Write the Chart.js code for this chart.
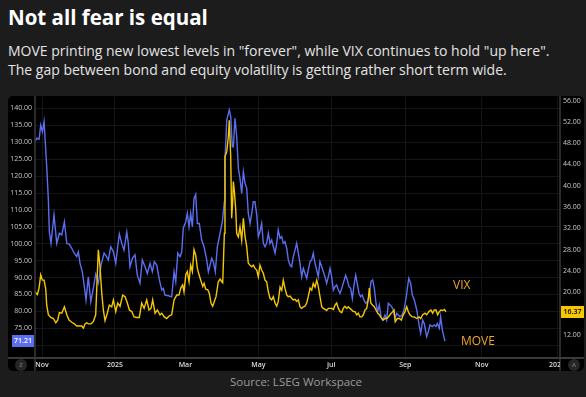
<!DOCTYPE html>
<html>
<head>
<meta charset="utf-8">
<script src="https://cdn.jsdelivr.net/npm/chart.js@4.4.1/dist/chart.umd.min.js"></script>
<style>
  html, body { margin: 0; padding: 0; width: 586px; height: 397px; overflow: hidden; background: #1c1c1c; font-family: 'Open Sans', sans-serif; }
  #title { position: absolute; left: 8px; top: 5px; color: #fff; font-weight: 700; font-size: 20.5px; line-height: 24px; white-space: nowrap; }
  #sub { position: absolute; left: 8px; top: 41px; color: #e4e4e4; font-size: 14px; line-height: 19px; white-space: nowrap; }
  #panel { position: absolute; left: 8px; top: 96px; width: 576px; height: 275px; background: #000; border-radius: 5px; overflow: hidden; }
  #src { position: absolute; left: 8px; top: 374px; width: 576px; text-align: center; color: #9a9a9a; font-size: 11.5px; line-height: 15px; }
</style>
</head>
<body>
<div id="title">Not all fear is equal</div>
<div id="sub">MOVE printing new lowest levels in "forever", while VIX continues to hold "up here".<br>The gap between bond and equity volatility is getting rather short term wide.</div>
<div id="panel"><canvas id="chart" width="576" height="275"></canvas></div>
<div id="src">Source: LSEG Workspace</div>

<script>
// --- data: x = days since 1 Nov 2024 ---
const moveDays = [-5.9,-4.4,-2.5,-1.1,0.3,1.7,3.9,5.3,6.1,7.5,
  10.0,12.3,14.5,16.5,18.7,20.7,22.8,24.9,27.0,29.0,
  30.4,31.8,33.7,35.4,36.8,38.7,40.8,42.9,44.9,47.1,
  49.4,51.9,53.6,55.5,57.5,59.7,61.7,63.3,64.7,66.7,
  68.6,70.9,72.2,73.6,75.6,77.8,79.7,82.0,83.9,86.2,
  88.1,90.4,92.3,94.0,96.0,98.2,100.2,101.5,102.9,105.7,
  108.5,110.5,111.9,113.6,115.5,116.9,118.2,120.3,121.6,123.0,
  124.4,125.8,127.2,128.6,130.0,131.6,133.6,135.6,137.8,139.2,
  142.0,143.3,145.0,146.7,149.0,150.9,152.6,153.1,154.6,156.7,
  157.9,159.2,160.1,161.5,162.9,164.3,165.7,167.1,168.5,169.9,
  171.3,172.6,174.1,175.5,176.8,178.2,179.7,181.0,182.4,183.8,
  185.2,186.6,188.0,189.4,190.8,192.2,193.6,195.0,196.4,197.7,
  199.2,200.6,201.9,203.3,204.8,206.1,207.5,208.9,210.3,211.7,
  213.1,214.5,215.9,217.3,218.7,220.1,221.5,222.8,224.3,225.7,
  227.0,228.5,229.9,231.2,232.6,234.1,235.4,236.8,238.2,239.6,
  241.0,242.4,243.8,245.2,246.6,248.0,249.4,250.8,252.1,254.1,
  255.5,256.9,258.3,259.7,261.1,262.5,263.8,265.3,266.7,268.0,
  269.5,270.9,272.2,273.9,275.3,276.7,278.1,279.5,280.9,282.3,
  283.7,285.1,287.0,288.4,289.8,291.2,292.6,294.0,295.4,296.8,
  298.2,299.6,301.3,302.9,304.6,306.9,308.5,309.9,311.6,313.6,
  315.5,316.9,318.6,319.9,321.9,323.3,324.7,326.6,328.3,329.7,
  330.8,332.5,333.6,335.0,337.2];
const moveVals = [130.2,131.2,130.9,135.1,133.1,136.1,122.8,112.9,103.5,100.1,
  108.5,100.1,103.1,102.6,106.5,100.1,99.9,98.6,97.2,96.2,
  97.6,94.2,91.7,87.3,83.3,90.2,82.8,86.8,91.0,88.3,
  93.7,97.2,96.4,95.2,99.1,97.6,94.2,99.1,102.9,100.1,
  98.1,103.5,100.1,93.2,95.7,96.7,90.7,88.3,95.2,93.2,
  91.2,94.2,91.7,94.7,93.7,89.3,86.3,86.8,84.8,84.6,
  84.3,91.7,88.8,97.2,96.2,97.6,104.6,106.5,109.0,105.0,
  109.0,105.0,113.4,114.6,106.0,106.0,101.1,99.1,95.2,91.7,
  95.7,94.7,91.7,99.1,103.1,106.5,112.4,124.8,136.6,139.6,
  137.6,128.7,128.7,137.1,131.7,122.3,119.3,114.9,121.3,117.9,
  116.4,109.0,106.0,109.0,112.4,112.4,108.5,102.1,103.6,106.0,
  100.1,99.1,100.1,103.1,100.1,101.1,99.1,97.2,100.1,104.1,
  101.6,102.1,100.1,100.6,98.6,95.2,93.7,93.2,96.2,98.1,
  100.1,97.2,94.2,90.2,92.7,91.2,89.8,92.2,94.7,95.2,
  97.2,94.2,92.2,90.2,94.7,93.2,91.7,90.2,88.3,90.2,
  92.7,90.2,86.3,87.3,87.8,86.3,85.3,86.8,88.3,90.7,
  89.3,87.3,86.8,83.8,87.8,90.7,88.3,85.3,84.3,84.8,
  83.3,82.4,82.8,84.8,88.8,89.3,86.8,82.4,79.9,81.9,
  78.4,77.4,78.9,77.4,82.4,81.9,81.4,80.4,77.9,79.4,
  78.9,78.4,78.9,80.4,83.8,89.8,88.3,84.8,83.3,80.4,
  76.0,73.5,77.4,76.4,72.5,74.0,76.0,75.5,76.0,75.5,
  76.4,75.0,78.4,74.5,71.21];

const vixDays = [-5.9,-3.9,-2.5,-1.1,0.3,1.7,3.1,3.9,5.3,7.3,
  9.5,11.5,13.1,14.5,16.5,18.7,20.7,22.6,24.9,27.0,
  29.0,31.2,33.2,34.6,36.0,37.4,38.7,41.0,42.9,44.9,
  47.1,48.5,50.0,51.3,52.7,54.6,56.3,58.3,59.7,61.7,
  63.3,65.3,67.5,69.5,71.4,73.1,75.1,77.0,79.2,81.4,
  83.4,85.4,87.6,89.5,91.2,92.6,94.6,96.5,98.7,100.2,
  102.3,104.3,106.5,108.5,110.5,112.7,114.6,116.1,117.7,118.8,
  120.3,121.6,123.0,124.4,125.8,127.2,128.6,130.0,131.4,132.8,
  134.5,135.6,137.0,138.7,140.0,141.4,142.8,144.2,145.6,147.5,
  149.0,150.4,151.2,152.6,153.1,154.6,155.9,156.7,157.9,158.7,
  159.6,160.1,160.9,162.1,162.9,164.3,165.7,167.1,168.5,169.9,
  171.3,172.6,174.1,175.5,176.8,178.2,179.7,181.0,182.4,183.8,
  185.2,186.6,188.0,189.4,190.8,192.2,193.6,195.0,196.4,197.7,
  199.2,200.6,201.9,203.3,204.8,206.1,207.5,208.9,210.3,211.7,
  213.1,214.5,215.9,217.3,218.7,220.1,221.5,222.8,224.3,225.7,
  227.0,228.5,229.9,231.2,232.6,234.1,235.4,236.8,238.2,239.6,
  241.0,242.4,243.8,245.2,246.6,248.0,249.4,250.8,252.1,253.5,
  255.0,256.3,257.7,259.2,260.5,261.9,263.3,264.7,266.1,267.5,
  268.9,270.3,271.7,273.0,273.9,275.1,276.7,278.1,279.5,280.9,
  282.3,284.3,285.6,287.0,288.4,289.8,291.2,293.5,294.6,295.6,
  297.3,299.0,300.7,302.3,303.8,305.2,306.5,307.9,309.9,311.6,
  313.6,315.5,316.9,318.6,320.5,321.9,323.8,325.5,326.9,328.3,
  329.7,331.1,332.5,333.9,335.3,336.7,338.1];
const vixVals = [20.1,19.6,20.8,23.3,22.3,22.3,20.6,17.6,15.8,15.3,
  15.1,14.3,14.8,16.2,16.1,17.3,15.8,14.8,14.4,14.1,
  13.7,13.7,13.7,13.3,14.1,14.3,14.1,14.1,14.5,15.8,
  28.0,24.8,19.8,16.7,14.7,16.1,17.6,17.3,18.6,16.4,
  18.0,17.4,19.5,19.2,18.0,16.7,16.4,15.4,15.3,15.3,
  18.0,17.0,18.6,16.7,17.0,18.6,16.1,16.7,15.8,16.1,
  15.4,15.1,15.6,15.8,18.6,19.5,19.5,20.8,21.4,20.1,
  23.3,23.9,22.0,25.1,23.9,28.0,27.0,24.5,23.3,22.3,
  21.1,21.7,20.6,20.5,19.8,18.0,17.4,18.3,19.2,22.0,
  22.5,22.0,21.8,31.1,45.5,46.4,49.2,52.3,45.5,33.9,
  37.3,40.8,39.2,35.5,31.1,30.4,32.3,29.8,33.9,30.4,
  28.6,25.5,25.1,24.8,25.1,24.5,24.2,22.9,25.1,24.2,
  23.6,22.3,22.0,20.1,18.9,18.6,19.2,18.0,17.4,18.3,
  21.0,20.4,22.3,20.8,19.5,19.2,19.3,18.9,18.6,18.7,
  18.3,18.6,17.3,17.0,17.3,17.4,18.0,19.2,20.8,20.4,
  21.7,21.0,22.3,21.1,19.2,17.3,17.0,16.8,16.6,17.0,
  17.0,17.0,16.8,17.6,18.0,17.0,16.4,16.2,17.0,17.4,
  17.0,17.3,17.0,16.7,16.4,16.4,15.8,16.1,15.4,15.4,
  15.8,16.7,17.0,18.6,20.8,18.0,17.6,17.3,16.7,16.1,
  15.8,15.1,14.8,15.1,15.1,15.4,15.8,16.4,16.7,14.5,
  15.1,15.1,14.8,15.8,16.4,17.3,16.4,15.8,15.4,15.4,
  15.1,15.4,15.1,15.8,16.1,15.8,16.4,16.7,16.1,16.7,
  16.7,15.8,16.4,16.7,16.6,16.8,16.37];

// axis ticks (the source axis is spaced by trading sessions, so the future
// ticks land a little later than their calendar day)
const monthTicks = [0, 61, 120, 181, 242, 304, 368, 431];
const monthLabels = ['Nov', '2025', 'Mar', 'May', 'Jul', 'Sep', 'Nov', '2026'];
const moveTicks = [70,75,80,85,90,95,100,105,110,115,120,125,130,135,140];
const vixTicks = [12,16,20,24,28,32,36,40,44,48,52,56];

// in-chart labels, placed in data units (day, VIX axis)
const seriesLabels = [
  { text: 'VIX', day: 344, vix: 21.3 },
  { text: 'MOVE', day: 350.6, vix: 10.7 }
];

const BLUE = '#5b6ef0';
const GOLD = '#f5c800';
const LABEL_ORANGE = '#f0a52c';

const toPoints = (xs, ys) => xs.map((d, i) => ({ x: d, y: ys[i] }));

function tag(ctx, x, y, w, text, bg, fg) {
  ctx.fillStyle = bg;
  ctx.fillRect(x, Math.round(y) - 6, w, 12);
  ctx.fillStyle = fg;
  ctx.font = '600 7px "Open Sans"';
  ctx.textAlign = 'center';
  ctx.textBaseline = 'middle';
  ctx.fillText(text, x + w / 2, Math.round(y));
}

function button(ctx, x, y, letter) {
  ctx.beginPath();
  ctx.arc(x, y, 6, 0, Math.PI * 2);
  ctx.fillStyle = '#262626';
  ctx.fill();
  ctx.fillStyle = '#777';
  ctx.font = '600 6px "Open Sans"';
  ctx.textAlign = 'center';
  ctx.textBaseline = 'middle';
  ctx.fillText(letter, x, y + 0.5);
}

const frame = {
  id: 'frame',
  afterDraw(chart) {
    const { ctx, chartArea: a, scales } = chart;
    const W = chart.width, H = chart.height;
    ctx.save();

    // axis borders
    ctx.strokeStyle = '#3a3a3a';
    ctx.lineWidth = 1.5;
    ctx.beginPath();
    ctx.moveTo(a.left, 0); ctx.lineTo(a.left, H);
    ctx.moveTo(a.right, 0); ctx.lineTo(a.right, H);
    ctx.stroke();
    ctx.lineWidth = 2;
    ctx.beginPath();
    ctx.moveTo(0, a.bottom + 1); ctx.lineTo(W, a.bottom + 1);
    ctx.stroke();

    // time labels, clipped to the plot width like the original
    ctx.save();
    ctx.beginPath();
    ctx.rect(a.left, a.bottom, a.right - a.left, H - a.bottom);
    ctx.clip();
    ctx.fillStyle = '#dcdcdc';
    ctx.font = '600 7px "Open Sans"';
    ctx.textAlign = 'center';
    ctx.textBaseline = 'middle';
    monthTicks.forEach((d, i) => {
      ctx.fillText(monthLabels[i], scales.x.getPixelForValue(d), a.bottom + 8);
    });
    ctx.restore();

    button(ctx, 13, a.bottom + 8, 'Z');
    button(ctx, a.right + 14, a.bottom + 8, 'A');

    // last value tags
    const lastMove = moveVals[moveVals.length - 1];
    const lastVix = vixVals[vixVals.length - 1];
    tag(ctx, 4, scales.yL.getPixelForValue(lastMove), 22, lastMove.toFixed(2), BLUE, '#fff');
    tag(ctx, a.right + 1, scales.yR.getPixelForValue(lastVix), 23, lastVix.toFixed(2), GOLD, '#000');

    // series names
    ctx.fillStyle = LABEL_ORANGE;
    ctx.font = '500 12px "Open Sans"';
    ctx.textAlign = 'left';
    ctx.textBaseline = 'middle';
    seriesLabels.forEach(l => {
      ctx.fillText(l.text, scales.x.getPixelForValue(l.day), scales.yR.getPixelForValue(l.vix));
    });
    ctx.restore();
  }
};

// y axes: fixed widths and no extra label padding so the plot keeps the full panel height
const fitY = w => s => { s.width = w; s.paddingTop = 0; s.paddingBottom = 0; };

new Chart(document.getElementById('chart'), {
  type: 'line',
  data: {
    datasets: [
      { label: 'VIX', data: toPoints(vixDays, vixVals), yAxisID: 'yR', borderColor: GOLD, borderWidth: 1.4, pointRadius: 0, tension: 0, order: 1 },
      { label: 'MOVE', data: toPoints(moveDays, moveVals), yAxisID: 'yL', borderColor: BLUE, borderWidth: 1.4, pointRadius: 0, tension: 0, order: 2 }
    ]
  },
  options: {
    responsive: false,
    animation: false,
    devicePixelRatio: 1,
    layout: { padding: { top: 1, left: 0, right: 0, bottom: 0 } },
    plugins: { legend: { display: false }, tooltip: { enabled: false } },
    scales: {
      x: {
        type: 'linear', min: -5.9, max: 433.5,
        afterBuildTicks: s => { s.ticks = monthTicks.map(v => ({ value: v })); },
        afterFit: s => { s.height = 14; s.paddingLeft = 0; s.paddingRight = 0; },
        ticks: { display: false },
        grid: { color: '#151515', drawTicks: false },
        border: { display: false }
      },
      yL: {
        position: 'left', min: 66.5, max: 143.4,
        afterBuildTicks: s => { s.ticks = moveTicks.map(v => ({ value: v })); },
        afterFit: fitY(27),
        ticks: { color: '#c8c8c8', font: { size: 7, family: 'Open Sans' }, padding: 3, autoSkip: false, callback: v => v.toFixed(2) },
        grid: { color: '#151515', drawTicks: false },
        border: { display: false }
      },
      yR: {
        position: 'right', min: 7.88, max: 56.66,
        afterBuildTicks: s => { s.ticks = vixTicks.map(v => ({ value: v })); },
        afterFit: fitY(24),
        ticks: { color: '#c8c8c8', font: { size: 7, family: 'Open Sans' }, padding: 3, autoSkip: false, callback: v => v.toFixed(2) },
        grid: { display: false, drawTicks: false },
        border: { display: false }
      }
    }
  },
  plugins: [frame]
});
</script>
</body>
</html>
